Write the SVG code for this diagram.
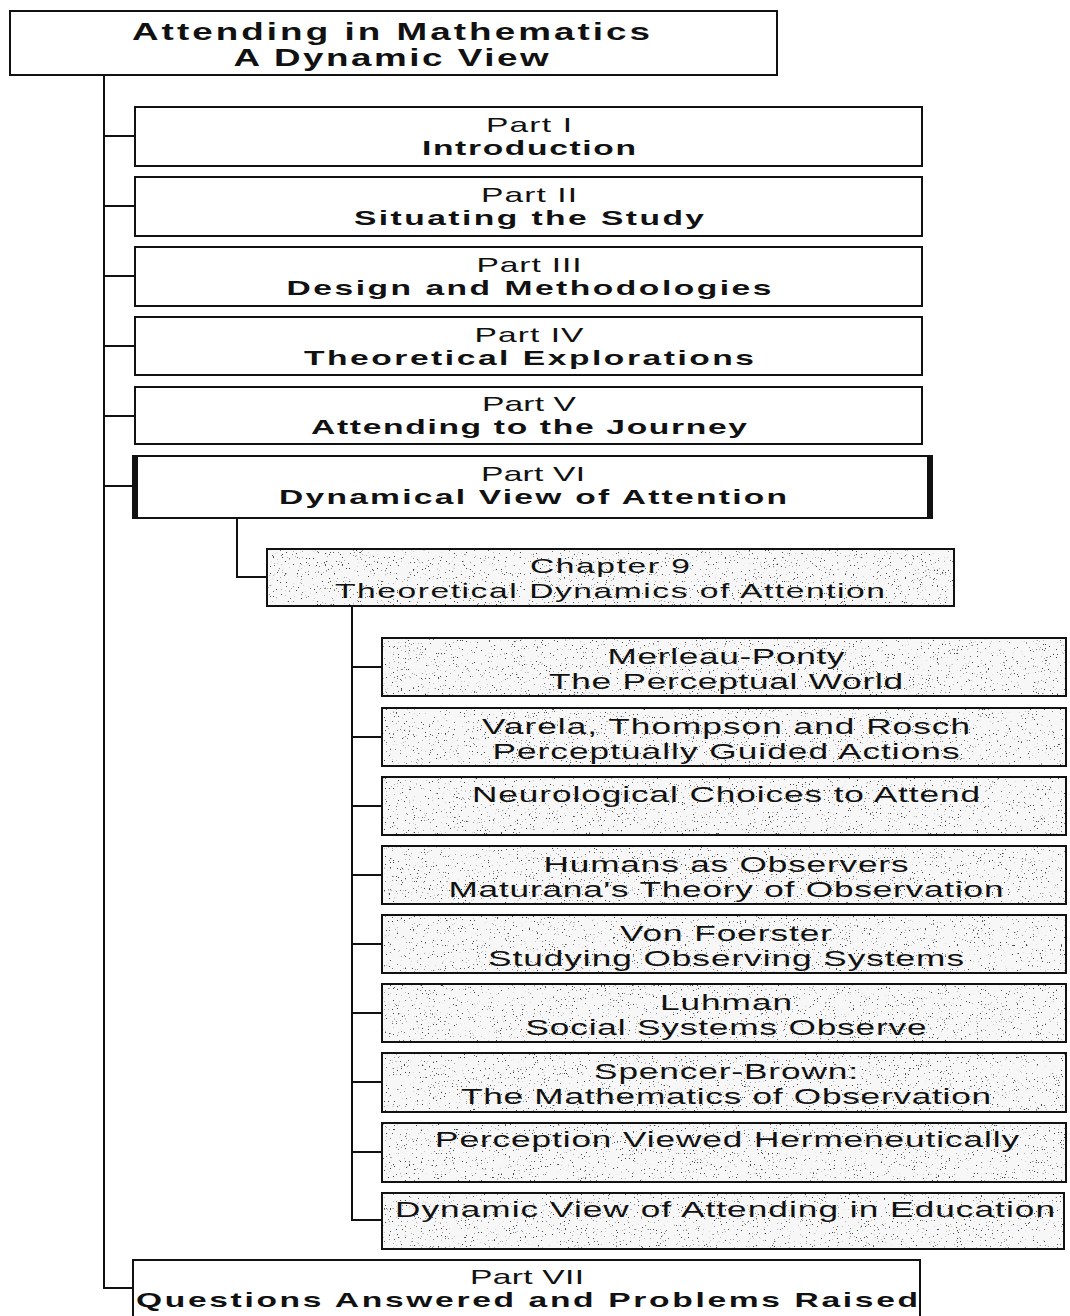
<svg xmlns="http://www.w3.org/2000/svg" width="1070" height="1316" viewBox="0 0 1070 1316">
  <style>
    .box{fill:#fff;stroke:#111;stroke-width:2}
    .frame{fill:none;stroke:#111;stroke-width:2}
    .shade{fill:#f7f7f7;filter:url(#speckle)}
    .wire{fill:none;stroke:#111;stroke-width:2}
    .heavy{stroke:#111;stroke-width:5}
    text{font-family:"Liberation Sans",Arial,sans-serif;fill:#111;text-anchor:middle}
    .b{font-weight:bold}
    .t{font-size:23px}
    .p{font-size:21px}
    .s{font-size:22px}
    .c{font-size:21px}
  </style>
  <defs>
    <!-- light grey stipple used for the chapter and section boxes -->
    <filter id="speckle" x="0" y="0" width="100%" height="100%" color-interpolation-filters="sRGB">
      <feTurbulence type="fractalNoise" baseFrequency="0.75" numOctaves="2" seed="7" result="noise"/>
      <feColorMatrix in="noise" type="matrix" values="0 0 0 0 0.25  0 0 0 0 0.25  0 0 0 0 0.25  14 0 0 0 -9.6" result="dots"/>
      <feComposite in="dots" in2="SourceGraphic" operator="in" result="clipped"/>
      <feMerge><feMergeNode in="SourceGraphic"/><feMergeNode in="clipped"/></feMerge>
    </filter>
  </defs>

  <!-- connectors -->
  <g id="connectors">
    <path class="wire" d="M104 75 V1288 H133"/>
    <path class="wire" d="M104 136 H135 M104 206 H135 M104 276 H135 M104 346 H135 M104 416 H135 M104 486 H133"/>
    <path class="wire" d="M237 518 V577 H267"/>
    <path class="wire" d="M352 606 V1220 H382 M352 667 H382 M352 737 H382 M352 806 H382 M352 875 H382 M352 944 H382 M352 1013 H382 M352 1082 H382 M352 1152 H382"/>
  </g>

  <!-- root -->
  <g id="root">
    <rect class="box" x="10" y="11" width="767" height="64"/>
    <g transform="translate(391 0) scale(1.6 1)">
      <text class="b t" x="0" y="40" textLength="323.8" lengthAdjust="spacing">Attending in Mathematics</text>
      <text class="b t" x="0" y="66" textLength="196.9" lengthAdjust="spacing">A Dynamic View</text>
    </g>
  </g>

  <!-- parts -->
  <g id="part1">
    <rect class="box" x="135" y="107" width="787" height="59"/>
    <g transform="translate(529 0) scale(1.6 1)">
      <text class="p" x="0" y="132" textLength="53.8" lengthAdjust="spacing">Part I</text>
      <text class="p b" x="0" y="155" textLength="133.8" lengthAdjust="spacing">Introduction</text>
    </g>
  </g>
  <g id="part2">
    <rect class="box" x="135" y="177" width="787" height="59"/>
    <g transform="translate(529 0) scale(1.6 1)">
      <text class="p" x="0" y="202" textLength="60" lengthAdjust="spacing">Part II</text>
      <text class="p b" x="0" y="225" textLength="218.8" lengthAdjust="spacing">Situating the Study</text>
    </g>
  </g>
  <g id="part3">
    <rect class="box" x="135" y="247" width="787" height="59"/>
    <g transform="translate(529 0) scale(1.6 1)">
      <text class="p" x="0" y="272" textLength="65.6" lengthAdjust="spacing">Part III</text>
      <text class="p b" x="0" y="295" textLength="303.1" lengthAdjust="spacing">Design and Methodologies</text>
    </g>
  </g>
  <g id="part4">
    <rect class="box" x="135" y="317" width="787" height="58"/>
    <g transform="translate(529 0) scale(1.6 1)">
      <text class="p" x="0" y="342" textLength="68.1" lengthAdjust="spacing">Part IV</text>
      <text class="p b" x="0" y="365" textLength="281.3" lengthAdjust="spacing">Theoretical Explorations</text>
    </g>
  </g>
  <g id="part5">
    <rect class="box" x="135" y="387" width="787" height="57"/>
    <g transform="translate(529 0) scale(1.6 1)">
      <text class="p" x="0" y="411" textLength="58.8" lengthAdjust="spacing">Part V</text>
      <text class="p b" x="0" y="434" textLength="272.5" lengthAdjust="spacing">Attending to the Journey</text>
    </g>
  </g>
  <g id="part6">
    <rect class="box" x="133" y="456" width="799" height="62" stroke-width="2.5"/>
    <path class="heavy" d="M135.5 455 V519 M929.5 455 V519"/>
    <g transform="translate(533 0) scale(1.6 1)">
      <text class="p" x="0" y="481" textLength="65" lengthAdjust="spacing">Part VI</text>
      <text class="p b" x="0" y="504" textLength="317.5" lengthAdjust="spacing">Dynamical View of Attention</text>
    </g>
  </g>

  <!-- chapter -->
  <g id="chapter9">
    <rect class="shade" x="267" y="549" width="687" height="57"/>
    <rect class="frame" x="267" y="549" width="687" height="57"/>
    <g transform="translate(610 0) scale(1.6 1)">
      <text class="c" x="0" y="573" textLength="100" lengthAdjust="spacing">Chapter 9</text>
      <text class="c" x="0" y="598" textLength="343.8" lengthAdjust="spacing">Theoretical Dynamics of Attention</text>
    </g>
  </g>

  <!-- sections of chapter 9 -->
  <g id="merleau-ponty">
    <rect class="shade" x="382" y="638" width="684" height="58"/>
    <rect class="frame" x="382" y="638" width="684" height="58"/>
    <g transform="translate(726 0) scale(1.6 1)">
      <text class="s" x="0" y="664" textLength="148.1" lengthAdjust="spacing">Merleau-Ponty</text>
      <text class="s" x="0" y="689" textLength="221.3" lengthAdjust="spacing">The Perceptual World</text>
    </g>
  </g>
  <g id="varela">
    <rect class="shade" x="382" y="708" width="684" height="58"/>
    <rect class="frame" x="382" y="708" width="684" height="58"/>
    <g transform="translate(726 0) scale(1.6 1)">
      <text class="s" x="0" y="734" textLength="305" lengthAdjust="spacing">Varela, Thompson and Rosch</text>
      <text class="s" x="0" y="759" textLength="291.9" lengthAdjust="spacing">Perceptually Guided Actions</text>
    </g>
  </g>
  <g id="neurological">
    <rect class="shade" x="382" y="777" width="684" height="58"/>
    <rect class="frame" x="382" y="777" width="684" height="58"/>
    <g transform="translate(726 0) scale(1.6 1)">
      <text class="s" x="0" y="802" textLength="317.5" lengthAdjust="spacing">Neurological Choices to Attend</text>
    </g>
  </g>
  <g id="maturana">
    <rect class="shade" x="382" y="846" width="684" height="58"/>
    <rect class="frame" x="382" y="846" width="684" height="58"/>
    <g transform="translate(726 0) scale(1.6 1)">
      <text class="s" x="0" y="872" textLength="228.1" lengthAdjust="spacing">Humans as Observers</text>
      <text class="s" x="0" y="897" textLength="346.9" lengthAdjust="spacing">Maturana's Theory of Observation</text>
    </g>
  </g>
  <g id="von-foerster">
    <rect class="shade" x="382" y="915" width="684" height="58"/>
    <rect class="frame" x="382" y="915" width="684" height="58"/>
    <g transform="translate(726 0) scale(1.6 1)">
      <text class="s" x="0" y="941" textLength="132.5" lengthAdjust="spacing">Von Foerster</text>
      <text class="s" x="0" y="966" textLength="297.5" lengthAdjust="spacing">Studying Observing Systems</text>
    </g>
  </g>
  <g id="luhman">
    <rect class="shade" x="382" y="984" width="684" height="58"/>
    <rect class="frame" x="382" y="984" width="684" height="58"/>
    <g transform="translate(726 0) scale(1.6 1)">
      <text class="s" x="0" y="1010" textLength="82.5" lengthAdjust="spacing">Luhman</text>
      <text class="s" x="0" y="1035" textLength="250.6" lengthAdjust="spacing">Social Systems Observe</text>
    </g>
  </g>
  <g id="spencer-brown">
    <rect class="shade" x="382" y="1053" width="684" height="59"/>
    <rect class="frame" x="382" y="1053" width="684" height="59"/>
    <g transform="translate(726 0) scale(1.6 1)">
      <text class="s" x="0" y="1079" textLength="165" lengthAdjust="spacing">Spencer-Brown:</text>
      <text class="s" x="0" y="1104" textLength="331.3" lengthAdjust="spacing">The Mathematics of Observation</text>
    </g>
  </g>
  <g id="hermeneutics">
    <rect class="shade" x="382" y="1123" width="684" height="59"/>
    <rect class="frame" x="382" y="1123" width="684" height="59"/>
    <g transform="translate(727 0) scale(1.6 1)">
      <text class="s" x="0" y="1147" textLength="365" lengthAdjust="spacing">Perception Viewed Hermeneutically</text>
    </g>
  </g>
  <g id="education">
    <rect class="shade" x="382" y="1193" width="682" height="56"/>
    <rect class="frame" x="382" y="1193" width="682" height="56"/>
    <g transform="translate(725 0) scale(1.6 1)">
      <text class="s" x="0" y="1217" textLength="412.5" lengthAdjust="spacing">Dynamic View of Attending in Education</text>
    </g>
  </g>

  <!-- closing part -->
  <g id="part7">
    <rect class="box" x="133" y="1260" width="787" height="70"/>
    <g transform="translate(527 0) scale(1.6 1)">
      <text class="p" x="0" y="1284" textLength="71.3" lengthAdjust="spacing">Part VII</text>
      <text class="p b" x="0" y="1307" textLength="488.8" lengthAdjust="spacing">Questions Answered and Problems Raised</text>
    </g>
  </g>
</svg>
